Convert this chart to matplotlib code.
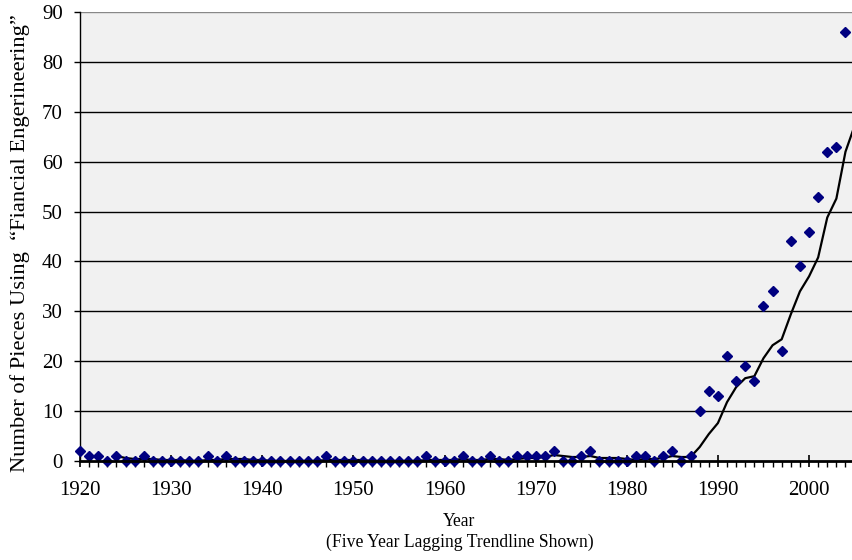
import numpy as np
import pandas as pd
import matplotlib
matplotlib.use("Agg")
import matplotlib.pyplot as plt
from matplotlib.ticker import MultipleLocator

plt.rcParams['font.family'] = ['Liberation Serif', 'DejaVu Serif']

years = list(range(1920, 2006))
counts = [2, 1, 1, 0, 1, 0, 0, 1, 0, 0,          # 1920-1929
          0, 0, 0, 0, 1, 0, 1, 0, 0, 0,          # 1930-1939
          0, 0, 0, 0, 0, 0, 0, 1, 0, 0,          # 1940-1949
          0, 0, 0, 0, 0, 0, 0, 0, 1, 0,          # 1950-1959
          0, 0, 1, 0, 0, 1, 0, 0, 1, 1,          # 1960-1969
          1, 1, 2, 0, 0, 1, 2, 0, 0, 0,          # 1970-1979
          0, 1, 1, 0, 1, 2, 0, 1, 10, 14,        # 1980-1989
          13, 21, 16, 19, 16, 31, 34, 22, 44, 39,  # 1990-1999
          46, 53, 62, 63, 86, 72]                # 2000-2005 (2005 beyond visible edge)
visible_last_year = 2004

x_ticks = [1920, 1930, 1940, 1950, 1960, 1970, 1980, 1990, 2000]
y_ticks = [0, 10, 20, 30, 40, 50, 60, 70, 80, 90]

df = pd.DataFrame({'year': years, 'count': counts})
df['trend'] = df['count'].rolling(5).mean()
pts = df[df['year'] <= visible_last_year]

fig = plt.figure(figsize=(8.52, 5.6), dpi=100)
ax = fig.add_axes([80/852, (560-461)/560, 774.6/852, 449/560])
ax.set_facecolor('#f1f1f1')

ax.set_xlim(1920, 2005)
ax.set_ylim(0, 90)

for v in y_ticks[1:-1]:
    ax.axhline(v, color='black', lw=1.0, zorder=1)
ax.axhline(90, color='#888888', lw=1.0, zorder=1)

ax.plot(df['year'], df['trend'], color='black', lw=1.6, zorder=3)
ax.plot(pts['year'], pts['count'], linestyle='none', marker='D',
        markersize=5.2, color='#000080', zorder=4, clip_on=False)

ax.set_xticks(x_ticks)
ax.set_yticks(y_ticks)
ax.xaxis.set_minor_locator(MultipleLocator(1))
ax.tick_params(axis='x', which='minor', direction='out', length=4.5, width=1.0)
ax.tick_params(axis='x', which='major', direction='inout', length=9, width=1.2,
               labelsize=15, pad=10)
ax.tick_params(axis='y', which='major', direction='out', length=4.5, width=1.0,
               labelsize=15, pad=8)

for s in ['top', 'right']:
    ax.spines[s].set_visible(False)
ax.spines['left'].set_linewidth(1.0)
ax.spines['bottom'].set_linewidth(2.0)
ax.spines['bottom'].set_zorder(5)

fig.text(20/852, 1 - 243/560, 'Number of Pieces Using  \u201cFiancial Engerineering\u201d',
         rotation=90, ha='center', va='center', fontsize=16.2)
fig.text(459/852, 1 - 522/560, 'Year', ha='center', va='center', fontsize=12.7)
fig.text(460/852, 1 - 542/560, '(Five Year Lagging Trendline Shown)', ha='center', va='center', fontsize=12.7)

fig.savefig('out.png', dpi=100)
